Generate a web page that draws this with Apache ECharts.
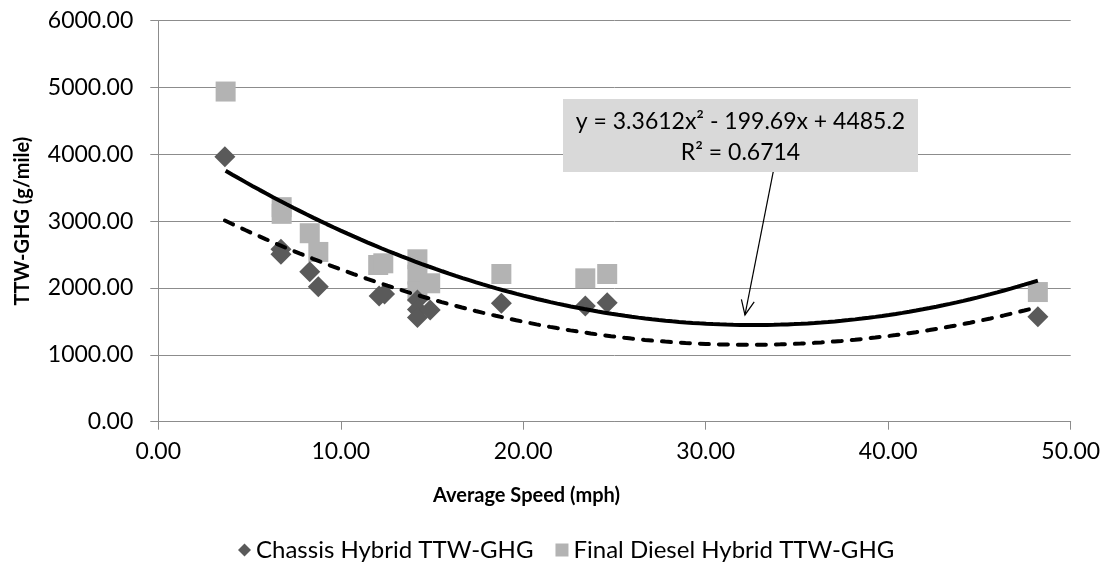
<!DOCTYPE html>
<html>
<head>
<meta charset="utf-8">
<script src="https://cdn.jsdelivr.net/npm/echarts@6/dist/echarts.min.js"></script>
<style>
html,body{margin:0;padding:0;background:#fff;}
#chart{width:1110px;height:563px;}
</style>
</head>
<body>
<div id="chart"></div>
<script>
// ---- data ----
const speedChassis = [3.65, 6.72, 6.72, 8.3, 8.77, 12.1, 12.4, 14.2, 14.2, 14.2, 14.9, 18.8, 23.4, 24.6, 48.2];
const ghgChassis   = [3965, 2580, 2505, 2245, 2020, 1880, 1910, 1820, 1680, 1560, 1670, 1772, 1731, 1781, 1570];
const speedDiesel  = [3.69, 6.76, 6.76, 8.3, 8.77, 12.05, 12.33, 14.2, 14.2, 14.2, 14.9, 18.8, 23.4, 24.6, 48.2];
const ghgDiesel    = [4940, 3210, 3110, 2820, 2540, 2345, 2370, 2430, 2200, 1950, 2071, 2210, 2145, 2210, 1940];
const xTicks = [0, 10, 20, 30, 40, 50];
const yTicks = [0, 1000, 2000, 3000, 4000, 5000, 6000];
const seriesNames = ['Chassis Hybrid TTW-GHG', 'Final Diesel Hybrid TTW-GHG'];
const eqText = ['y = 3.3612x\u00B2 - 199.69x + 4485.2', 'R\u00B2 = 0.6714'];
const arrowFrom = [33.7, 3741];
const arrowTo = [32.15, 1597];

// quadratic least squares fit
function quadFit(xs, ys) {
  let s = [0,0,0,0,0], t = [0,0,0];
  for (let i = 0; i < xs.length; i++) {
    const x = xs[i], y = ys[i];
    let p = 1;
    for (let k = 0; k < 5; k++) { s[k] += p; p *= x; }
    t[0] += y; t[1] += y * x; t[2] += y * x * x;
  }
  const A = [[s[0], s[1], s[2], t[0]], [s[1], s[2], s[3], t[1]], [s[2], s[3], s[4], t[2]]];
  for (let c = 0; c < 3; c++) {
    let piv = c;
    for (let r = c + 1; r < 3; r++) if (Math.abs(A[r][c]) > Math.abs(A[piv][c])) piv = r;
    [A[c], A[piv]] = [A[piv], A[c]];
    for (let r = 0; r < 3; r++) {
      if (r === c) continue;
      const f = A[r][c] / A[c][c];
      for (let k = c; k < 4; k++) A[r][k] -= f * A[c][k];
    }
  }
  return [A[0][3] / A[0][0], A[1][3] / A[1][1], A[2][3] / A[2][2]]; // c0, c1, c2
}
function trend(xs, ys) {
  const c = quadFit(xs, ys);
  const lo = Math.min(...xs), hi = Math.max(...xs);
  const out = [];
  const n = 120;
  for (let i = 0; i <= n; i++) {
    const x = lo + (hi - lo) * i / n;
    out.push([x, c[0] + c[1] * x + c[2] * x * x]);
  }
  return out;
}
const zip = (a, b) => a.map((v, i) => [v, b[i]]);

const FONT = 'Lato';
const gridColor = '#8c8c8c';

const chart = echarts.init(document.getElementById('chart'), null, {renderer: 'canvas'});
chart.setOption({
  animation: false,
  backgroundColor: '#ffffff',
  grid: {left: 158.3, right: 39.3, top: 20.7, bottom: 141.3, containLabel: false},
  xAxis: {
    type: 'value', min: xTicks[0], max: xTicks[xTicks.length - 1], interval: 10,
    name: 'Average Speed (mph)', nameLocation: 'middle', nameGap: 64,
    nameTextStyle: {fontFamily: FONT, fontWeight: 'bold', fontSize: 20, color: '#000', padding: [0, 176, 0, 0]},
    axisLine: {show: true, lineStyle: {color: gridColor, width: 1}},
    axisTick: {show: true, length: 8, lineStyle: {color: gridColor}},
    axisLabel: {fontFamily: FONT, fontSize: 23, color: '#000', margin: 18, formatter: v => v.toFixed(2)},
    splitLine: {show: false}
  },
  yAxis: {
    type: 'value', min: yTicks[0], max: yTicks[yTicks.length - 1], interval: 1000,
    name: 'TTW-GHG (g/mile)', nameLocation: 'middle', nameGap: 126,
    nameTextStyle: {fontFamily: FONT, fontWeight: 'bold', fontSize: 20, color: '#000'},
    axisLine: {show: true, lineStyle: {color: gridColor, width: 1}},
    axisTick: {show: true, length: 8, lineStyle: {color: gridColor}},
    axisLabel: {fontFamily: FONT, fontSize: 23, color: '#000', margin: 25, formatter: v => v.toFixed(2)},
    splitLine: {show: true, lineStyle: {color: gridColor, width: 1}}
  },
  legend: {
    top: 533, left: 233, itemWidth: 13, itemHeight: 13, itemGap: 22,
    textStyle: {fontFamily: FONT, fontSize: 24, color: '#000'},
    data: [{name: seriesNames[0], icon: 'diamond'}, {name: seriesNames[1], icon: 'rect'}]
  },
  series: [
    {
      name: seriesNames[1], type: 'scatter', symbol: 'rect', symbolSize: 20,
      itemStyle: {color: '#b3b3b3', opacity: 1}, z: 2,
      data: zip(speedDiesel, ghgDiesel)
    },
    {
      name: seriesNames[0], type: 'scatter', symbol: 'diamond', symbolSize: 21,
      itemStyle: {color: '#5a5a5a', opacity: 1}, z: 3,
      data: zip(speedChassis, ghgChassis)
    },
    {
      name: 'trendDiesel', type: 'line', showSymbol: false, symbol: 'none', z: 4,
      lineStyle: {color: '#000', width: 4}, data: trend(speedDiesel, ghgDiesel)
    },
    {
      name: 'trendChassis', type: 'line', showSymbol: false, symbol: 'none', z: 4,
      lineStyle: {color: '#000', width: 4, type: [9, 10], cap: 'round'}, data: trend(speedChassis, ghgChassis)
    }
  ]
});

// annotation: equation box with arrow
const p0 = chart.convertToPixel({gridIndex: 0}, arrowFrom);
const p1 = chart.convertToPixel({gridIndex: 0}, arrowTo);
const ang = Math.atan2(p1[1] - p0[1], p1[0] - p0[0]);
const hl = 16, ha = 0.42;
const h1 = [p1[0] - hl * Math.cos(ang - ha), p1[1] - hl * Math.sin(ang - ha)];
const h2 = [p1[0] - hl * Math.cos(ang + ha), p1[1] - hl * Math.sin(ang + ha)];
chart.setOption({
  graphic: [
    {type: 'line', z: 50, shape: {x1: p0[0], y1: p0[1], x2: p1[0], y2: p1[1]}, style: {stroke: '#000', lineWidth: 1.2}},
    {type: 'polyline', z: 50, shape: {points: [h1, p1, h2]}, style: {stroke: '#000', lineWidth: 1.2, fill: null}},
    {type: 'rect', z: 51, shape: {x: 563, y: 99, width: 355, height: 73}, style: {fill: '#d9d9d9'}},
    {type: 'text', z: 52, x: 740.5, y: 121.5, style: {text: eqText[0], font: '23px Lato', fill: '#000', align: 'center', verticalAlign: 'middle'}},
    {type: 'text', z: 52, x: 740.5, y: 153, style: {text: eqText[1], font: '23px Lato', fill: '#000', align: 'center', verticalAlign: 'middle'}}
  ]
});
</script>
</body>
</html>
